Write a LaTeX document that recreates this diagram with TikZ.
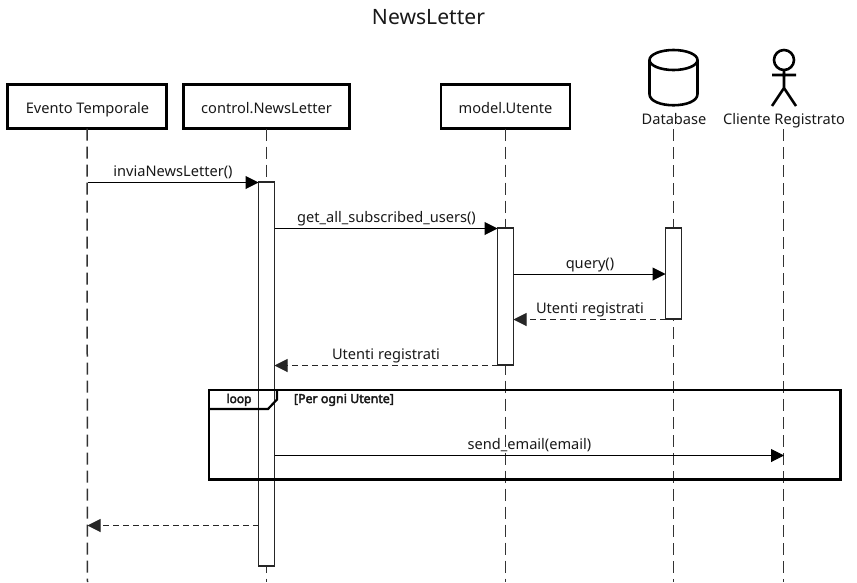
\documentclass[tikz,border=0pt]{standalone}
\usepackage{fontspec}
\setmainfont{Noto Sans}
\newfontfamily\heavyfont[FakeBold=3]{Noto Sans}
\usetikzlibrary{arrows.meta,shapes.geometric}
\definecolor{life}{HTML}{333333}
\tikzset{
  x=1pt,y=-1pt,
  every node/.style={inner sep=0pt,outer sep=0pt,font=\fontsize{14.6}{17}\selectfont,text=black!90},
  headbox/.style={draw=black,line width=2.6pt,fill=white,rectangle,minimum height=44pt,anchor=north west,text height=13.5pt,text depth=0pt},
  lifeline/.style={draw=life,line width=1.5pt,dash pattern=on 12pt off 6pt},
  actbar/.style={draw=black!85,line width=1.3pt,fill=white,rectangle,minimum width=16pt,anchor=north},
  msg/.style={draw=black,line width=1pt,-{Triangle[length=13pt,width=13pt,sep=0pt]}},
  ret/.style={draw=black!85,line width=1pt,dash pattern=on 6pt off 4pt,-{Triangle[length=13pt,width=13pt,sep=0pt]}},
  msglabel/.style={anchor=base},
  frame/.style={draw=black,line width=2.2pt},
  iconline/.style={draw=black,line width=2.6pt},
}
\begin{document}
\begin{tikzpicture}
\useasboundingbox (0,0) rectangle (857,582);
\fill[white] (0,0) rectangle (857,582);
\node[font=\fontsize{21.1}{25}\selectfont,anchor=base] (title) at (428.5,24.5) {NewsLetter};

% lifelines ends
\coordinate (e1) at (87.5,582);
\coordinate (e2) at (266.5,582);
\coordinate (e3) at (505.5,582);
\coordinate (e4) at (673.5,582);
\coordinate (e5) at (783.5,582);

% heads
\node[headbox,minimum width=159pt] (h1) at (7.5,84.5) {\hspace{1pt}Evento Temporale};
\node[headbox,minimum width=166pt] (h2) at (183.5,84.5) {control.NewsLetter};
\node[headbox,minimum width=129pt] (h3) at (441,84.5) {model.Utente};
\node[anchor=base] (h4) at (674,124) {Database};
\node[anchor=base] (h5) at (784,124) {Cliente Registrato};

\draw[lifeline] (h1.south) -- (e1);
\draw[lifeline] (h2.south) -- (e2);
\draw[lifeline] (h3.south) -- (e3);
\draw[lifeline] (e4 |- 0,129) -- (e4);
\draw[lifeline] (e5 |- 0,129) -- (e5);

% database icon
\draw[iconline,fill=white] (649.5,60) -- (649.5,94)
  .. controls (649.5,109) and (697.5,109) .. (697.5,94) -- (697.5,60);
\draw[iconline,fill=white] (673.5,60) ellipse [x radius=24,y radius=10];

% actor icon
\draw[iconline] (784,60) circle [radius=10];
\draw[iconline] (784,70) -- (784,88) (772,75) -- (796,75)
  (772,106) -- (784,88) -- (796,106);

% activation bars
\node[actbar,minimum height=384pt] (a1) at (266.5,182) {};
\node[actbar,minimum height=137pt] (a2) at (505.5,228) {};
\node[actbar,minimum height=91pt] (a3) at (673.5,228) {};

% message end points
\coordinate (m1) at (87.5,182.5);
\coordinate (m6) at (87.5,525.5);
\coordinate (m5) at (784,455.5);

\draw[msg] (m1) -- (m1 -| a1.west);
\node[msglabel] (l1) at (173,176) {inviaNewsLetter()};
\draw[msg] (a1.east |- 0,228.5) -- (a2.west |- 0,228.5);
\node[msglabel] (l2) at (386.5,222.5) {get\_all\_subscribed\_users()};
\draw[msg] (a2.east |- 0,274) -- (a3.west |- 0,274);
\node[msglabel] (l3) at (590,268.5) {query()};
\draw[ret] (a3.west |- 0,319.5) -- (a2.east |- 0,319.5);
\node[msglabel] (l4) at (590,313.5) {Utenti registrati};
\draw[ret] (a2.west |- 0,365.5) -- (a1.east |- 0,365.5);
\node[msglabel] (l5) at (386,359.5) {Utenti registrati};

% loop frame
\draw[frame] (209,390) rectangle (840.5,479.5);
\draw[frame] (209,409) -- (268,409) -- (277,399.5) -- (277,390);
\node[anchor=base,font=\fontsize{12}{13}\selectfont\heavyfont] (lp) at (239,403) {loop};
\node[anchor=base west,font=\fontsize{12.4}{13}\selectfont\heavyfont] (gd) at (294,403) {[Per ogni Utente]};

\draw[msg] (a1.east |- 0,455.5) -- (m5);
\node[msglabel] (l6) at (529.5,449.5) {send\_email(email)};
\draw[ret] (a1.west |- 0,525.5) -- (m6);
\end{tikzpicture}
\end{document}
